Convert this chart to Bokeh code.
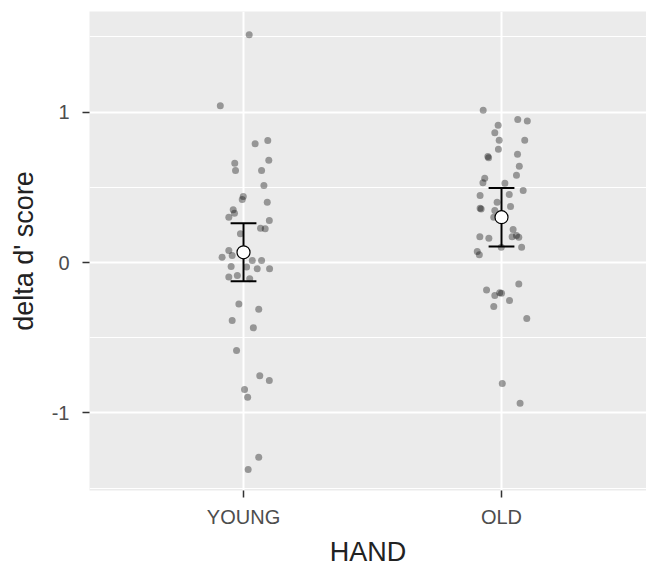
from bokeh.plotting import figure
from bokeh.models import Range1d, FixedTicker, ColumnDataSource
from bokeh.embed import file_html
from bokeh.resources import INLINE

# Groups on the x axis
groups = ["YOUNG", "OLD"]

# Individual delta d' scores and their horizontal jitter (in category units)
young_scores = [1.513, 1.041, 0.789, 0.811, 0.680, 0.660, 0.611, 0.611, 0.512, 0.439,
                0.419, 0.401, 0.350, 0.328, 0.301, 0.279, 0.228, 0.224, 0.191, 0.080,
                0.035, 0.047, 0.013, 0.013, -0.027, -0.042, -0.042, -0.097, -0.086, -0.108,
                -0.275, -0.310, -0.385, -0.434, -0.585, -0.753, -0.784, -0.844, -0.895, -1.294,
                -1.375, -0.030]
young_jitter = [0.022, -0.090, 0.045, 0.094, 0.098, -0.034, -0.031, 0.070, 0.079, -0.001,
                -0.005, 0.092, -0.040, -0.035, -0.057, 0.100, 0.066, 0.084, -0.012, -0.057,
                -0.083, -0.044, 0.034, 0.070, -0.048, 0.053, 0.101, -0.057, -0.024, 0.024,
                -0.018, 0.059, -0.044, 0.038, -0.027, 0.063, 0.100, 0.004, 0.016, 0.059,
                0.018, 0.012]

old_scores = [1.012, 0.950, 0.941, 0.912, 0.862, 0.813, 0.813, 0.753, 0.704, 0.696,
              0.720, 0.640, 0.580, 0.560, 0.530, 0.527, 0.478, 0.452, 0.445, 0.401,
              0.372, 0.361, 0.355, 0.346, 0.301, 0.219, 0.171, 0.162, 0.171, 0.179,
              0.168, 0.102, 0.102, 0.073, 0.051, -0.142, -0.182, -0.201, -0.205, -0.219,
              -0.252, -0.292, -0.372, -0.804, -0.935]
old_jitter = [-0.071, 0.063, 0.100, -0.013, -0.026, -0.009, 0.090, -0.012, -0.053, -0.050,
              0.062, 0.069, 0.058, -0.065, -0.072, 0.013, 0.084, 0.030, -0.083, -0.017,
              0.035, -0.083, -0.079, -0.026, -0.030, 0.045, -0.084, -0.049, 0.041, 0.058,
              0.067, 0.078, -0.001, -0.094, -0.086, 0.067, -0.058, -0.007, 0.000, -0.026,
              0.031, -0.030, 0.098, 0.003, 0.072]

# Group means with standard-error bounds
means = [0.068, 0.301]
lower = [-0.124, 0.106]
upper = [0.261, 0.495]

# Y tick values and their labels
y_ticks = [-1, 0, 1]
y_tick_labels = ["-1", "0", "1"]

BG = "#EBEBEB"
FONT = "Liberation Sans"

p = figure(
    width=646, height=569,
    x_range=Range1d(0.403, 2.562), y_range=Range1d(-1.515, 1.668),
    output_backend="svg", toolbar_location=None,
    min_border_left=89, min_border_right=0, min_border_top=11, min_border_bottom=79,
)
p.background_fill_color = BG
p.border_fill_color = "white"
p.outline_line_color = None

# Grid
p.xaxis.ticker = FixedTicker(ticks=[1, 2])
p.yaxis.ticker = FixedTicker(ticks=y_ticks, minor_ticks=[-1.5, -0.5, 0.5, 1.5])
p.xgrid.grid_line_color = "white"
p.xgrid.grid_line_width = 2
p.ygrid.grid_line_color = "white"
p.ygrid.grid_line_width = 2
p.ygrid.minor_grid_line_color = "white"
p.ygrid.minor_grid_line_width = 1

# Axes
p.xaxis.major_label_overrides = {i + 1: g for i, g in enumerate(groups)}
p.yaxis.major_label_overrides = dict(zip(y_ticks, y_tick_labels))
for ax in (p.xaxis[0], p.yaxis[0]):
    ax.axis_line_color = None
    ax.major_tick_in = 0
    ax.major_tick_out = 7
    ax.major_tick_line_color = "#333333"
    ax.major_tick_line_width = 1.5
    ax.minor_tick_line_color = None
    ax.major_label_text_font = FONT
    ax.major_label_text_font_size = "20px"
    ax.major_label_text_color = "#4D4D4D"
    ax.axis_label_text_font = FONT
    ax.axis_label_text_font_size = "27px"
    ax.axis_label_text_font_style = "normal"
    ax.axis_label_text_color = "#222222"

p.xaxis.axis_label = "HAND"
p.yaxis.axis_label = "delta d' score"
p.xaxis.major_label_standoff = 8
p.xaxis.axis_label_standoff = 6
p.yaxis.major_label_standoff = 13
p.yaxis.axis_label_standoff = 10

# Jittered individual points
xs, ys = [], []
for gi, (scores, jit) in enumerate([(young_scores, young_jitter), (old_scores, old_jitter)]):
    for v, j in zip(scores, jit):
        xs.append(gi + 1 + j)
        ys.append(v)
pts = ColumnDataSource(dict(x=xs, y=ys))
p.scatter("x", "y", source=pts, size=7, fill_color="black", fill_alpha=0.36,
          line_color=None)

# Error bars with caps
centers = [i + 1 for i in range(len(groups))]
cap = 0.05
p.segment(x0=centers, y0=lower, x1=centers, y1=upper, line_color="black", line_width=2)
p.segment(x0=[c - cap for c in centers], y0=lower, x1=[c + cap for c in centers], y1=lower,
          line_color="black", line_width=2)
p.segment(x0=[c - cap for c in centers], y0=upper, x1=[c + cap for c in centers], y1=upper,
          line_color="black", line_width=2)

# Mean markers
p.scatter(x=centers, y=means, size=13, fill_color="white", line_color="black", line_width=1.2)

open("out.html", "w").write(file_html(p, INLINE))
